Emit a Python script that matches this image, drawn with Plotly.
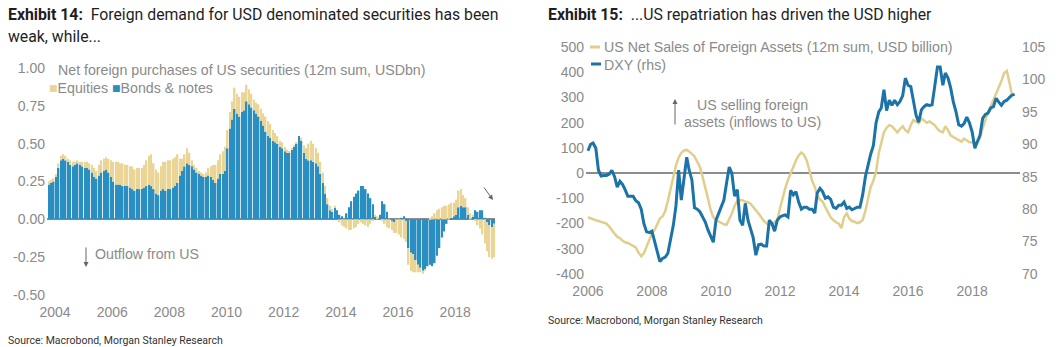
import plotly.graph_objects as go
import pandas as pd

# ---------------- Left chart data (monthly, 2003-10 .. 2019-05) ----------------
left_start = "2003-10-01"
bonds = [
    0.23, 0.24, 0.25,
    0.28, 0.34, 0.39, 0.40, 0.39, 0.38, 0.36, 0.35, 0.36, 0.37, 0.36, 0.35,
    0.34, 0.34, 0.33, 0.31, 0.28, 0.27, 0.29, 0.31, 0.32, 0.33, 0.31, 0.28,
    0.25, 0.23, 0.23, 0.23, 0.22, 0.22, 0.22, 0.21, 0.20, 0.19, 0.20, 0.20,
    0.20, 0.21, 0.22, 0.23, 0.22, 0.20, 0.17, 0.16, 0.19, 0.20, 0.19, 0.20,
    0.20, 0.21, 0.22, 0.24, 0.29, 0.32, 0.35, 0.37, 0.36, 0.35, 0.33, 0.31,
    0.30, 0.29, 0.28, 0.28, 0.29, 0.28, 0.26, 0.24, 0.27, 0.30, 0.30, 0.32,
    0.47, 0.60, 0.66, 0.73, 0.70, 0.68, 0.71, 0.72, 0.78, 0.76, 0.74, 0.72,
    0.70, 0.68, 0.65, 0.62, 0.58, 0.55, 0.54, 0.52, 0.51, 0.50, 0.48, 0.47,
    0.45, 0.44, 0.44, 0.46, 0.48, 0.50, 0.55, 0.52, 0.44, 0.40, 0.39, 0.39,
    0.38, 0.37, 0.35, 0.30, 0.24, 0.17, 0.10, 0.06, 0.05, 0.08, 0.06, 0.03,
    0.02, 0.00, 0.04, 0.08, 0.12, 0.15, 0.17, 0.19, 0.22, 0.22, 0.20, 0.17,
    0.14, 0.10, 0.02, 0.00, 0.03, 0.12, 0.10, 0.05, 0.00, -0.01, -0.02, 0.00,
    0.00, 0.01, 0.02, -0.01, -0.19, -0.22, -0.23, -0.27, -0.30, -0.32, -0.34, -0.33,
    -0.31, -0.30, -0.31, -0.29, -0.24, -0.19, -0.12, -0.08, -0.03, 0.00, 0.01, 0.02,
    0.03, 0.08, 0.09, 0.08, 0.08, 0.03, 0.00, 0.02, 0.06, 0.05, 0.06, 0.06,
    0.01, -0.02, -0.04, -0.05, -0.03,
]
equities = [
    0.02, 0.02, 0.02,
    0.02, 0.03, 0.03, 0.03, 0.03, 0.02, 0.03, 0.03, 0.02, 0.02, 0.02, 0.03,
    0.04, 0.04, 0.04, 0.05, 0.06, 0.05, 0.07, 0.08, 0.08, 0.08, 0.09, 0.11,
    0.13, 0.15, 0.15, 0.14, 0.15, 0.14, 0.14, 0.14, 0.15, 0.14, 0.14, 0.14,
    0.14, 0.15, 0.17, 0.19, 0.21, 0.17, 0.16, 0.15, 0.16, 0.18, 0.19, 0.19,
    0.19, 0.19, 0.19, 0.19, 0.11, 0.08, 0.08, 0.10, 0.08, 0.04, 0.03, 0.03,
    0.02, 0.02, 0.02, 0.03, 0.05, 0.07, 0.10, 0.12, 0.12, 0.13, 0.15, 0.16,
    0.12, 0.11, 0.12, 0.14, 0.13, 0.13, 0.13, 0.12, 0.11, 0.10, 0.09, 0.07,
    0.07, 0.08, 0.08, 0.08, 0.10, 0.10, 0.09, 0.07, 0.06, 0.05, 0.04, 0.04,
    0.03, 0.02, 0.01, 0.01, 0.01, 0.01, 0.00, 0.02, 0.05, 0.07, 0.11, 0.13,
    0.12, 0.10, 0.09, 0.08, 0.07, 0.05, 0.04, 0.03, 0.02, 0.01, 0.00, -0.02,
    -0.04, -0.05, -0.06, -0.07, -0.07, -0.06, -0.05, -0.03, -0.02, -0.03, -0.04, -0.05,
    -0.03, -0.01, 0.01, 0.02, 0.00, -0.01, -0.03, -0.05, -0.06, -0.06, -0.07, -0.09,
    -0.10, -0.12, -0.13, -0.14, -0.11, -0.12, -0.12, -0.08, -0.05, -0.03, -0.02, -0.01,
    0.00, 0.01, 0.02, 0.04, 0.06, 0.07, 0.08, 0.09, 0.09, 0.10, 0.10, 0.09,
    0.10, 0.11, 0.11, 0.08, 0.06, 0.05, 0.04, 0.01, -0.01, -0.04, -0.06, -0.10,
    -0.16, -0.19, -0.21, -0.21, -0.22,
]
left_ticks = ["2004", "2006", "2008", "2010", "2012", "2014", "2016", "2018"]
left_yticks = [-0.5, -0.25, 0.0, 0.25, 0.5, 0.75, 1.0]

# ---------------- Right chart data (monthly, 2006-01 ..) ----------------
right_start = "2006-01-01"
us_net_sales = [
    -175, -180, -185, -187, -190, -193, -196, -200, -212, -228, -240, -252,
    -258, -268, -274, -277, -282, -288, -295, -315, -330, -318, -290, -262,
    -240, -225, -200, -180, -172, -150, -110, -60, -15, 30, 62, 80,
    90, 92, 86, 75, 66, 45, 25, -15, -55, -100, -146, -175,
    -186, -192, -198, -203, -205, -185, -160, -130, -110, -107, -108, -113,
    -115, -122, -133, -145, -160, -175, -190, -200, -205, -203, -195, -186,
    -140, -94, -60, -27, 0, 25, 50, 70, 82, 72, 50, 12,
    -30, -55, -90, -105, -113, -135, -155, -175, -186, -195, -200, -218,
    -175, -160, -180, -190, -193, -198, -195, -186, -150, -107, -55, -30,
    5, 80, 125, 162, 180, 190, 186, 175, 162, 175, 186, 170,
    162, 190, 210, 205, 198, 217, 208, 200, 205, 198, 190, 175,
    165, 162, 186, 170, 150, 143, 138, 130, 125, 137, 130, 122,
    122, 115, 120, 140, 178, 215, 242, 265, 290, 315, 337, 365,
    397, 405, 361, 310,
]
dxy = [
    89.0, 90.0, 90.2, 89.4, 86.0, 85.1, 85.2, 85.2, 85.4, 86.0, 85.0, 83.4,
    84.3, 83.8, 83.0, 82.0, 82.0, 82.0, 81.3, 81.0, 80.0, 77.8, 76.5, 76.4,
    76.6, 75.0, 73.2, 71.9, 72.4, 72.6, 73.2, 75.5, 77.5, 80.5, 86.0, 81.4,
    84.8, 88.0, 86.0, 84.5, 80.2, 80.0, 79.6, 78.8, 78.0, 76.8, 75.8, 74.9,
    78.3, 79.4, 80.5, 81.4, 84.0, 86.5, 85.5, 82.0, 83.0, 78.3, 77.5, 80.9,
    78.3, 76.8, 75.6, 72.9, 74.5, 74.6, 74.3, 74.3, 78.3, 77.8, 76.6, 78.3,
    78.8, 79.0, 79.1, 78.8, 82.9, 82.2, 82.7, 81.1, 80.0, 80.3, 80.3, 80.0,
    80.0, 79.4, 82.5, 83.2, 82.7, 81.7, 81.9, 81.5, 80.3, 80.1, 80.6, 80.6,
    81.1, 80.1, 80.3, 79.9, 80.1, 80.3, 80.3, 82.2, 85.0, 87.0, 88.5, 89.8,
    93.3, 95.0, 95.6, 98.4, 95.2, 96.8, 96.0, 96.8, 96.1, 96.6, 97.5, 100.2,
    99.1, 98.9, 96.5, 94.5, 93.4, 95.3, 95.8, 96.1, 96.0, 96.1, 99.0, 101.9,
    101.9, 99.1, 101.0, 100.2, 98.7, 96.5, 95.0, 93.0, 92.8, 93.2, 94.2, 93.3,
    91.9, 89.4, 90.4, 91.4, 94.0, 94.6, 94.8, 95.6, 95.8, 97.1, 96.5, 96.0,
    96.6, 96.8, 97.2, 97.6, 97.7,
]
right_ticks = ["2006", "2008", "2010", "2012", "2014", "2016", "2018"]
right_yticks = [-400, -300, -200, -100, 0, 100, 200, 300, 400, 500]
right_y2ticks = [70, 75, 80, 85, 90, 95, 100, 105]

# ---------------- styling ----------------
W, H = 1057, 347
BEIGE = "#EAD596"
BLUE_BAR = "#2A8EC1"
BEIGE_LINE = "#E2CE8C"
BLUE_LINE = "#1B73A7"
GREY = "#8A8A8A"
AXFONT = "Liberation Sans, Arial, sans-serif"
TFONT = "Roboto, Arial, sans-serif"

def px(x):
    return x / W

def py(y):
    return 1 - y / H

left_dates = pd.date_range(left_start, periods=len(bonds), freq="MS") + pd.Timedelta(days=14)
right_dates_s = pd.date_range(right_start, periods=len(us_net_sales), freq="MS")
right_dates_d = pd.date_range(right_start, periods=len(dxy), freq="MS")

fig = go.Figure()
fig.add_trace(go.Bar(x=left_dates, y=bonds, marker=dict(color=BLUE_BAR, line=dict(width=0)),
                     xaxis="x", yaxis="y", name="Bonds & notes"))
fig.add_trace(go.Bar(x=left_dates, y=equities, marker=dict(color=BEIGE, line=dict(width=0)),
                     xaxis="x", yaxis="y", name="Equities"))
fig.add_trace(go.Scatter(x=right_dates_s, y=us_net_sales, mode="lines",
                         line=dict(color=BEIGE_LINE, width=2.5), xaxis="x2", yaxis="y2",
                         name="US Net Sales of Foreign Assets"))
fig.add_trace(go.Scatter(x=right_dates_d, y=dxy, mode="lines",
                         line=dict(color=BLUE_LINE, width=3), xaxis="x2", yaxis="y3",
                         name="DXY (rhs)"))

tickfont = dict(family=AXFONT, size=14, color=GREY)

def fmt(v):
    return f"{v:.2f}"

common = dict(showgrid=False, showline=False, ticks="", tickfont=tickfont, automargin=False)

fig.update_layout(
    width=W, height=H, margin=dict(l=0, r=0, t=0, b=0, autoexpand=False),
    paper_bgcolor="white", plot_bgcolor="white",
    barmode="relative", bargap=0.3, showlegend=False,
    xaxis=dict(domain=[px(47), px(495)], anchor="y", type="date",
               range=["2003-09-20", "2019-05-25"],
               tickvals=[f"{t}-01-01" for t in left_ticks], ticktext=left_ticks,
               zeroline=False, ticklabelstandoff=7, **common),
    yaxis=dict(domain=[py(295), py(68)], anchor="x", range=[-0.5, 1.0],
               tickvals=left_yticks, ticktext=[fmt(v) for v in left_yticks],
               zeroline=True, zerolinecolor="#8C8C8C", zerolinewidth=1.5,
               ticklabelstandoff=1, **common),
    xaxis2=dict(domain=[px(586), px(1020)], anchor="y2", type="date",
                range=["2005-12-10", "2019-07-01"],
                tickvals=[f"{t}-01-01" for t in right_ticks], ticktext=right_ticks,
                zeroline=False, ticklabelstandoff=7, **common),
    yaxis2=dict(domain=[py(274), py(47)], anchor="x2", range=[-400, 500],
                tickvals=right_yticks, ticktext=[str(v) for v in right_yticks],
                zeroline=True, zerolinecolor="#8C8C8C", zerolinewidth=1.5,
                ticklabelstandoff=1, **common),
    yaxis3=dict(domain=[py(274), py(47)], anchor="x2", overlaying="y2", side="right",
                range=[70, 105], tickvals=right_y2ticks, ticktext=[str(v) for v in right_y2ticks],
                zeroline=False, ticklabelstandoff=1, **common),
)

ann = []
def text(x, y, s, size, color, family=TFONT, xanchor="left"):
    ann.append(dict(x=px(x), y=py(y), xref="paper", yref="paper", text=s, showarrow=False,
                    xanchor=xanchor, yanchor="middle", font=dict(family=family, size=size, color=color)))

# titles
TS = 15.8
text(6, 15, "<b>Exhibit 14:</b>  Foreign demand for USD denominated securities has been", TS, "#1E1E1E")
text(6, 36, "weak, while...", TS, "#1E1E1E")
text(546, 15, "<b>Exhibit 15:</b>  ...US repatriation has driven the USD higher", TS, "#1E1E1E")

# left legend
LFS = 14.2
text(56, 70, "Net foreign purchases of US securities (12m sum, USDbn)", LFS, GREY, AXFONT)
text(47, 88, f"<span style='color:{BEIGE}'>■</span>Equities <span style='color:{BLUE_BAR}'>■</span>Bonds &amp; notes",
     LFS, GREY, AXFONT)
text(93, 254, "Outflow from US", LFS, GREY, AXFONT)

# right legend
text(602, 47, "US Net Sales of Foreign Assets (12m sum, USD billion)", LFS, GREY, AXFONT)
text(602, 65, "DXY (rhs)", LFS, GREY, AXFONT)
text(752, 105, "US selling foreign", LFS, GREY, AXFONT, xanchor="center")
text(752, 122, "assets (inflows to US)", LFS, GREY, AXFONT, xanchor="center")

# sources
text(6, 340, "Source: Macrobond, Morgan Stanley Research", 10.5, "#333333")
text(546, 320, "Source: Macrobond, Morgan Stanley Research", 10.5, "#333333")

# arrows (tail offsets in pixels)
def arrow(x0, y0, x1, y1):
    ann.append(dict(x=px(x1), y=py(y1), ax=x0 - x1, ay=y0 - y1, xref="paper", yref="paper",
                    axref="pixel", ayref="pixel", text="", showarrow=True,
                    arrowhead=2, arrowsize=1, arrowwidth=1, arrowcolor="#666666"))

arrow(86, 246, 86, 267)
arrow(483, 186, 493, 200)
arrow(675, 126, 675, 99)

fig.update_layout(annotations=ann)

# legend line samples for right chart
fig.add_shape(type="line", xref="paper", yref="paper", x0=px(590), x1=px(600), y0=py(47), y1=py(47),
              line=dict(color=BEIGE_LINE, width=3))
fig.add_shape(type="line", xref="paper", yref="paper", x0=px(591), x1=px(601), y0=py(64), y1=py(64),
              line=dict(color=BLUE_LINE, width=3))

fig.write_html("out.html")
